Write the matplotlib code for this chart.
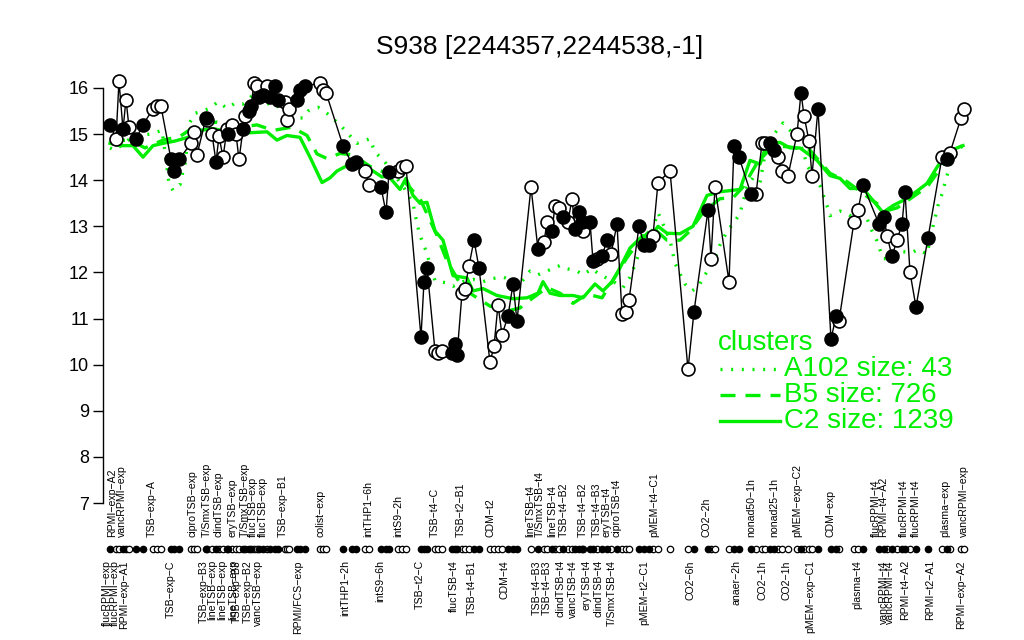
import matplotlib
matplotlib.use("Agg")
import matplotlib.pyplot as plt
from matplotlib.lines import Line2D

plt.rcParams['font.family'] = ['Liberation Sans', 'DejaVu Sans']

title = "S938 [2244357,2244538,-1]"

# sample positions (ordering scale), expression values, filled flag
pos = [110, 116, 119, 123, 126, 129, 136, 143, 153, 157, 161, 171, 174, 179, 191, 194, 197,
       206, 207, 212, 216, 219, 223, 227, 228, 232, 236, 239, 243, 245, 249, 251, 254, 257,
       259, 263, 267, 270, 275, 278, 285, 287, 289, 297, 300, 305, 320, 323, 326,
       343, 352, 356, 365, 369, 381, 386, 389, 398, 402, 406, 421, 424, 427, 435, 438, 442,
       452, 455, 457, 462, 465, 469, 474, 479, 490, 494, 498, 502, 508, 513, 517,
       531, 538, 544, 547, 552, 555, 559, 563, 568, 572, 575, 579, 582, 583, 590, 593, 597,
       602, 607, 611, 617, 622, 626, 629, 639, 644, 649, 653, 658, 670, 688, 694, 708, 711,
       715, 729, 734, 739, 751, 756, 762, 765, 770, 774, 778, 782, 788, 797, 801, 804, 809,
       812, 818, 831, 836, 839, 854, 858, 863, 879, 884, 887, 892, 897, 902, 905, 910, 916,
       928, 942, 947, 950, 961, 964]
vals = [15.2, 14.9, 16.15, 15.1, 15.75, 15.15, 14.9, 15.2, 15.55, 15.6, 15.6, 14.45, 14.2, 14.45,
        14.8, 15.05, 14.55, 15.35, 15.3, 15.0, 14.4, 14.95, 14.5, 15.1, 15.0, 15.2, 15.0, 14.45,
        15.1, 15.4, 15.5, 15.6, 16.1, 16.05, 15.8, 15.85, 16.05, 15.8, 16.05, 15.75, 15.7, 15.3,
        15.55, 15.75, 15.95, 16.05, 16.1, 15.95, 15.9,
        14.75, 14.35, 14.4, 14.2, 13.9, 13.85, 13.3, 14.17, 14.2, 14.28, 14.3, 10.6, 11.8, 12.1,
        10.3, 10.25, 10.3, 10.25, 10.45, 10.2, 11.55, 11.65, 12.15, 12.7, 12.1, 10.05, 10.4, 11.3,
        10.65, 11.05, 11.75, 10.95,
        13.85, 12.5, 12.65, 13.1, 12.9, 13.45, 13.4, 13.2, 13.1, 13.6, 12.95, 13.3, 13.1, 12.9,
        13.1, 12.25, 12.3, 12.35, 12.7, 12.4, 13.05, 11.1, 11.15, 11.4, 13.0, 12.6, 12.6, 12.8,
        13.95, 14.2, 9.9, 11.15, 13.35, 12.3, 13.85, 11.8, 14.75, 14.5, 13.7, 13.7, 14.8, 14.8,
        14.8, 14.65, 14.5, 14.2, 14.1, 15.0, 15.9, 15.4, 14.85, 14.1, 15.55, 10.55, 11.05, 10.95,
        13.1, 13.35, 13.9, 13.05, 13.2, 12.8, 12.35, 12.7, 13.05, 13.75, 12.0, 11.25, 12.75,
        14.5, 14.45, 14.6, 15.35, 15.55]
filled = "FOOFOOFFOOOFFFOOOFOOFOOOFOOOFOFFOOFFOFFFOOOFFFOOO" \
         "FFFOOFFFOOOFFFOOOFFFOOOFFOOOOFFF" \
         "OFOOFOOFOOFFFOFFOFFOFOOOFFFOOOOFFOOOFFFOOOFFOOOOFOOOFFF" \
         "OOOFFFOFOFFOFFOFOOOFO"

# cluster mean profiles
c2_x = [110, 120, 133, 143, 153, 163, 175, 188, 200, 213, 230, 250, 267, 277, 287, 300, 310, 322,
        330, 337, 350, 363, 373, 382, 388, 400, 406, 413, 420, 427, 435, 443, 453, 467, 473, 483,
        497, 513, 527, 538, 543, 550, 560, 573, 583, 595, 603, 612, 620, 630, 643, 650, 658, 667,
        680, 693, 707, 720, 740, 750, 760, 767, 780, 790, 800, 805, 817, 830, 840, 850, 863, 873,
        883, 893, 903, 913, 927, 937, 947, 957, 963]
c2_y = [14.8, 14.75, 14.75, 14.5, 14.75, 14.8, 14.85, 14.93, 15.08, 15.12, 15.04, 15.03, 15.05,
        14.87, 14.97, 14.93, 14.5, 13.95, 14.05, 14.2, 14.35, 14.35, 14.2, 14.07, 14.1, 13.8, 14.04,
        13.67, 13.5, 13.52, 12.9, 12.7, 11.93, 11.88, 11.6, 11.65, 11.5, 11.43, 11.45, 11.55, 11.8,
        11.55, 11.5, 11.5, 11.45, 11.75, 11.6, 11.8, 12.1, 12.53, 12.8, 12.75, 13.0, 12.85, 12.84,
        13.0, 13.67, 13.75, 13.8, 14.43, 14.35, 14.8, 14.82, 14.7, 14.7, 14.62, 14.43, 14.1, 14.04,
        13.82, 13.82, 13.56, 13.3, 13.45, 13.56, 13.7, 13.93, 14.28, 14.6, 14.7, 14.75]
b5_x = [110, 130, 145, 163, 180, 197, 217, 240, 257, 273, 292, 307, 317, 327, 340, 353, 370, 387,
        403, 420, 437, 447, 463, 477, 490, 507, 520, 533, 547, 560, 573, 587, 602, 617, 627, 637,
        653, 667, 680, 690, 703, 720, 733, 743, 757, 773, 790, 810, 830, 847, 870, 887, 897, 927,
        947, 962]
b5_y = [14.85, 14.87, 14.7, 14.87, 14.95, 15.2, 15.26, 15.15, 15.2, 15.08, 15.15, 14.97, 14.57,
        14.47, 14.58, 14.55, 14.3, 14.15, 14.0, 13.6, 12.8, 12.25, 11.65, 11.45, 11.27, 11.16,
        11.23, 11.45, 11.67, 11.55, 11.33, 11.53, 11.45, 11.97, 12.32, 12.62, 12.97, 12.7, 12.7,
        12.9, 13.3, 13.6, 13.62, 13.85, 14.37, 14.75, 14.72, 14.65, 14.15, 13.97, 13.6, 13.34,
        13.4, 13.85, 14.45, 14.75]
a102_x = [110, 115, 133, 150, 162, 165, 169, 173, 180, 182, 185, 190, 195, 210, 218, 227, 235, 243,
          253, 263, 273, 285, 297, 303, 308, 318, 327, 340, 357, 370, 375, 383, 395, 405, 413, 417,
          420, 426, 429, 435, 445, 453, 463, 473, 483, 493, 503, 513, 520, 530, 538, 560, 567, 577,
          583, 592, 600, 612, 623, 630, 633, 640, 650, 658, 662, 670, 675, 680, 685, 692, 698, 705,
          713, 720, 728, 733, 740, 747, 753, 760, 767, 777, 783, 790, 797, 803, 807, 820, 827, 830,
          840, 848, 857, 867, 872, 877, 883, 890, 897, 903, 912, 918, 927, 933, 938, 942, 947, 952,
          957, 963]
a102_y = [14.7, 14.65, 14.95, 15.0, 15.08, 14.6, 13.93, 13.78, 13.9, 14.1, 14.36, 15.26, 15.45,
          15.56, 15.7, 15.56, 15.67, 15.65, 15.85, 15.78, 15.56, 15.67, 15.35, 15.35, 15.5, 15.58,
          15.45, 15.2, 14.8, 14.9, 14.6, 14.45, 14.1, 13.8, 13.5, 13.06, 12.8, 12.47, 12.25, 11.82,
          11.78, 11.7, 11.8, 11.85, 11.8, 11.87, 11.9, 11.82, 11.75, 12.03, 11.95, 12.15, 12.08,
          12.03, 11.95, 12.08, 11.95, 11.82, 11.67, 11.9, 12.05, 12.47, 12.77, 13.3, 13.1, 12.7,
          12.2, 11.97, 11.75, 11.6, 11.68, 11.95, 12.2, 12.6, 12.93, 13.05, 13.28, 13.85, 14.05,
          13.95, 14.8, 15.08, 15.24, 15.08, 14.87, 14.65, 14.32, 13.88, 13.45, 13.23, 13.33, 13.27,
          13.12, 13.17, 12.9, 12.68, 12.3, 12.3, 12.4, 12.45, 12.43, 12.5, 12.4, 13.0, 13.45, 13.7,
          14.1, 14.47, 14.65, 14.75]

top_labels = ["RPMI\u2212exp\u2212A2", "vancRPMI\u2212exp", "TSB\u2212exp\u2212A", "ciproTSB\u2212exp",
              "T/SmxTSB\u2212exp", "clindTSB\u2212exp", "eryTSB\u2212exp", "T/SmxTSB\u2212exp",
              "flucTSB\u2212exp", "flucTSB\u2212exp", "TSB\u2212exp\u2212B1", "colist\u2212exp",
              "intTHP1\u22126h", "intS9\u22122h", "TSB\u2212t4\u2212C", "TSB\u2212t2\u2212B1", "CDM\u2212t2",
              "lineTSB\u2212t4", "T/SmxTSB\u2212t4", "lineTSB\u2212t4", "TSB\u2212t4\u2212B2",
              "TSB\u2212t4\u2212B2", "TSB\u2212t4\u2212B3", "eryTSB\u2212t4", "ciproTSB\u2212t4",
              "pMEM\u2212t4\u2212C1", "CO2\u22122h", "nonad50\u22121h", "nonad25\u22121h",
              "pMEM\u2212exp\u2212C2", "CDM\u2212exp", "flucRPMI\u2212t4", "RPMI\u2212t4\u2212A2",
              "flucRPMI\u2212t4", "flucRPMI\u2212t4", "plasma\u2212exp", "vancRPMI\u2212exp"]
top_pos = [112, 122, 152, 192, 207, 218, 232, 245, 253, 263, 283, 320, 368, 398, 435, 461, 490,
           530, 540, 552, 564, 583, 597, 606, 617, 654, 707, 751, 774, 797, 830, 876, 883, 904,
           916, 945, 964]
bot_labels = ["flucRPMI\u2212exp", "flucRPMI\u2212exp", "RPMI\u2212exp\u2212A1", "TSB\u2212exp\u2212C",
              "TSB\u2212exp\u2212B3", "lineTSB\u2212exp", "lineTSB\u2212exp", "lineTSB\u2212exp",
              "TSB\u2212exp\u2212B3", "TSB\u2212exp\u2212B2", "vancTSB\u2212exp", "RPMI/FCS\u2212exp",
              "intTHP1\u22122h", "intS9\u22126h", "TSB\u2212t2\u2212C", "flucTSB\u2212t4", "TSB\u2212t4\u2212B1",
              "CDM\u2212t4", "TSB\u2212t4\u2212B3", "TSB\u2212t4\u2212B3", "clindTSB\u2212t4",
              "vancTSB\u2212t4", "eryTSB\u2212t4", "clindTSB\u2212t4", "T/SmxTSB\u2212t4",
              "pMEM\u2212t2\u2212C1", "CO2\u22126h", "anaer\u22122h", "CO2\u22121h", "CO2\u22121h",
              "pMEM\u2212exp\u2212C1", "plasma\u2212t4", "vancRPMI\u2212t4", "vancRPMI\u2212t4",
              "RPMI\u2212t4\u2212A2", "RPMI\u2212t2\u2212A1", "RPMI\u2212exp\u2212A2"]
bot_pos = [107, 115, 124, 171, 204, 212, 222, 233, 237, 248, 258, 298, 345, 380, 420, 454, 472,
           505, 537, 547, 561, 573, 586, 599, 612, 644, 690, 736, 762, 787, 810, 857, 884, 890,
           905, 930, 961]

legend_title = "clusters"
cluster_names = ["A102 size: 43", "B5 size: 726", "C2 size: 1239"]
yticks = [7, 8, 9, 10, 11, 12, 13, 14, 15, 16]

GREEN = '#00ee00'
styles = [(0, (0.6, 2.6)), (0, (4.5, 3)), '-']

fig = plt.figure(figsize=(10.24, 6.4), dpi=100)
ax = fig.add_axes([103 / 1024, 0.0, (975 - 103) / 1024, 580 / 640])
ax.set_xlim(103, 975)
ax.set_ylim(4.029, 16.607)

# cluster lines
for xs, ys, st in zip([a102_x, b5_x, c2_x], [a102_y, b5_y, c2_y], styles):
    ax.plot(xs, ys, color=GREEN, lw=2.4, linestyle=st, dash_capstyle='butt', zorder=1)

# data line and points
ax.plot(pos, vals, color='black', lw=1.0, zorder=2)
fx = [p for p, f in zip(pos, filled) if f == 'F']
fy = [v for v, f in zip(vals, filled) if f == 'F']
ox = [p for p, f in zip(pos, filled) if f == 'O']
oy = [v for v, f in zip(vals, filled) if f == 'O']
ax.plot(ox, oy, 'o', ms=9.3, mfc='white', mec='black', mew=1.2, zorder=3, ls='none')
ax.plot(fx, fy, 'o', ms=9.3, mfc='black', mec='black', mew=1.2, zorder=3, ls='none')

# sample marker row
ax.plot(ox, [6.0] * len(ox), 'o', ms=4.6, mfc='white', mec='black', mew=0.9, ls='none', clip_on=False)
ax.plot(fx, [6.0] * len(fx), 'o', ms=4.6, mfc='black', mec='black', mew=0.9, ls='none', clip_on=False)

for lab, p in zip(top_labels, top_pos):
    ax.text(p, 6.26, lab, rotation=90, ha='center', va='bottom', fontsize=7.6, clip_on=False)
for lab, p in zip(bot_labels, bot_pos):
    ax.text(p, 5.76, lab, rotation=90, ha='center', va='top', fontsize=7.6, clip_on=False)

# axes styling
for s in ['top', 'right', 'bottom']:
    ax.spines[s].set_visible(False)
ax.spines['left'].set_bounds(7, 16)
ax.spines['left'].set_linewidth(1.0)
ax.set_yticks(yticks)
ax.set_yticklabels([str(t) for t in yticks], fontsize=13)
ax.tick_params(axis='y', length=7, width=1.0, pad=3)
ax.set_xticks([])

fig.text(540 / 1024, 1 - 47 / 640, title, ha='center', va='center', fontsize=19)

# legend drawn manually (R style)
fig.text(718 / 1024, 1 - 343 / 640, legend_title, color=GREEN, fontsize=20,
         ha='left', va='center')
for i, (name, st) in enumerate(zip(cluster_names, styles)):
    yy = 1 - (369 + 26 * i) / 640
    fig.add_artist(Line2D([720 / 1024, 780 / 1024], [yy, yy], transform=fig.transFigure,
                          color=GREEN, lw=2.4, linestyle=st, dash_capstyle='butt'))
    fig.text(784 / 1024, yy, name, color=GREEN, fontsize=20, ha='left', va='center')

fig.savefig('out.png', dpi=100)
